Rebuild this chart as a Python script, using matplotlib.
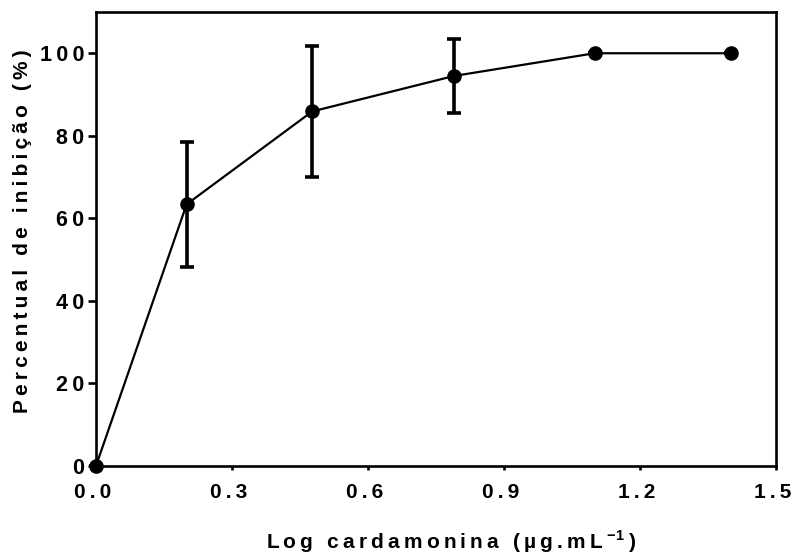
import matplotlib
matplotlib.use("Agg")
import matplotlib.pyplot as plt
import matplotlib.transforms as mtransforms

plt.rcParams['font.family'] = ['Liberation Sans', 'DejaVu Sans']
plt.rcParams['font.weight'] = 'bold'
plt.rcParams['mathtext.fontset'] = 'custom'
plt.rcParams['mathtext.rm'] = 'Liberation Sans:bold'
plt.rcParams['mathtext.bf'] = 'Liberation Sans:bold'

# dados
log_conc = [0.0, 0.2, 0.477, 0.79, 1.1, 1.4]
inibicao = [0.0, 63.4, 85.9, 94.5, 100.0, 100.0]
erro = [0.0, 15.2, 15.8, 9.0, 0.0, 0.0]

xticks = [0.0, 0.3, 0.6, 0.9, 1.2, 1.5]
yticks = [0, 20, 40, 60, 80, 100]

SP = '\u2009'


def espacado(txt):
    # espaçamento entre letras, como no original
    return SP.join(txt)


fig = plt.figure(figsize=(7.93, 5.57), dpi=100)
ax = fig.add_axes([0.121, 0.1634, 0.8575, 0.8151])

ax.errorbar(log_conc, inibicao, yerr=erro, color='black', lw=1.6,
            marker='o', markersize=9.5, elinewidth=2.6, capsize=4.8,
            capthick=2.6, clip_on=False, zorder=3)

ax.set_xlim(0, 1.5)
ax.set_ylim(0, 110)
ax.set_xticks(xticks)
ax.set_xticklabels([espacado(f'{v:.1f}') for v in xticks])
ax.set_yticks(yticks)
ax.set_yticklabels([espacado(str(v)) for v in yticks])

for s in ax.spines.values():
    s.set_linewidth(1.9)
ax.tick_params(axis='y', direction='out', length=5.5, width=1.9, labelsize=15.5, pad=3)
ax.tick_params(axis='x', direction='out', length=3, width=1.9, labelsize=15, pad=9)

# rótulos do eixo x levemente deslocados para a esquerda
desloc = mtransforms.ScaledTranslation(-3 / 100, 0, fig.dpi_scale_trans)
for lab in ax.get_xticklabels():
    lab.set_transform(lab.get_transform() + desloc)

fig.text(23 / 793, 1 - 231 / 557, espacado('Percentual de inibição (%)'),
         rotation=90, ha='center', va='center', fontsize=15, fontweight='bold')
fig.text(451 / 793, 8 / 557,
         espacado('Log cardamonina (µg.mL') + SP + r'$^{\mathbf{-1}}$' + SP + ')',
         ha='center', va='baseline', fontsize=15, fontweight='bold')

fig.savefig('out.png', dpi=100)
